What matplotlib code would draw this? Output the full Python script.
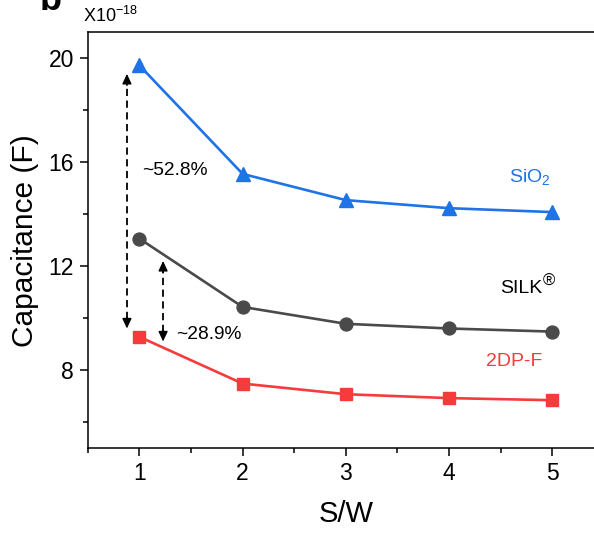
import matplotlib
matplotlib.use("Agg")
import matplotlib.pyplot as plt
from matplotlib.ticker import MultipleLocator

plt.rcParams['font.family'] = ['Liberation Sans', 'DejaVu Sans']
plt.rcParams['mathtext.fontset'] = 'custom'
plt.rcParams['mathtext.rm'] = 'Liberation Sans'
plt.rcParams['mathtext.it'] = 'Liberation Sans'

sw = [1, 2, 3, 4, 5]
sio2 = [19.73, 15.55, 14.54, 14.23, 14.08]
silk = [13.06, 10.43, 9.78, 9.60, 9.48]
dpf = [9.28, 7.48, 7.07, 6.92, 6.84]

c_blue = '#1E73E6'
c_gray = '#4A4A4A'
c_red = '#F53B3B'

fig = plt.figure(figsize=(5.94, 5.33), dpi=100)
ax = fig.add_axes([87.7/594, 1-448/533, (604-87.7)/594, (448-32.3)/533])

ax.plot(sw, sio2, '-^', color=c_blue, lw=1.9, ms=10.5, mec=c_blue, zorder=3)
ax.plot(sw, silk, '-o', color=c_gray, lw=1.9, ms=9.3, mec=c_gray, zorder=3)
ax.plot(sw, dpf, '-s', color=c_red, lw=1.9, ms=8.6, mec=c_red, zorder=3)

ax.set_xlim(0.5, 5.5)
ax.set_ylim(5, 21)
ax.xaxis.set_major_locator(MultipleLocator(1))
ax.xaxis.set_minor_locator(MultipleLocator(0.5))
ax.yaxis.set_major_locator(MultipleLocator(4))
ax.yaxis.set_minor_locator(MultipleLocator(2))
ax.set_yticks([8, 12, 16, 20])
ax.tick_params(which='major', direction='out', length=6, width=1.1, labelsize=16.5, pad=4)
ax.tick_params(which='minor', direction='out', length=3.5, width=1.1)
ax.tick_params(top=False, right=False, which='both')
for s in ax.spines.values():
    s.set_linewidth(1.1)

ax.set_xlabel('S/W', fontsize=21, labelpad=11)
ax.set_ylabel('Capacitance (F)', fontsize=21.5, labelpad=7)

# double arrows
def darrow(x, y0, y1):
    ax.plot([x, x], [y0 + 0.35, y1 - 0.35], color='black', lw=1.3,
            dashes=(4, 2.5), zorder=2)
    for a, b in ((y1 - 0.45, y1), (y0 + 0.45, y0)):
        ax.annotate('', xy=(x, b), xytext=(x, a),
                    arrowprops=dict(arrowstyle='-|>,head_length=0.6,head_width=0.28',
                                    color='black', lw=1.0, shrinkA=0, shrinkB=0))

darrow(0.88, 9.6, 19.4)
darrow(1.23, 9.1, 12.2)

ax.text(1.03, 15.7, '~52.8%', fontsize=13.8, va='center', ha='left')
ax.text(1.355, 9.35, '~28.9%', fontsize=13.8, va='center', ha='left')

ax.text(4.78, 15.43, 'SiO$_2$', fontsize=14, color=c_blue, ha='center', va='center')
ax.text(4.9, 10.96, 'SILK', fontsize=14, color='black', ha='right', va='baseline')
ax.annotate('®', xy=(4.9, 10.96), xytext=(0.5, 5.5), textcoords='offset points',
            fontsize=12, color='black', ha='left', va='baseline')
ax.text(4.63, 8.32, '2DP-F', fontsize=14, color=c_red, ha='center', va='center')

fig.text(83/594, 1-16/533, 'X10$^{-18}$', fontsize=13, ha='left', va='center')
fig.text(40/594, 1-10/533, 'b', fontsize=26, fontweight='bold', ha='left', va='baseline')

fig.savefig('out.png', dpi=100)
